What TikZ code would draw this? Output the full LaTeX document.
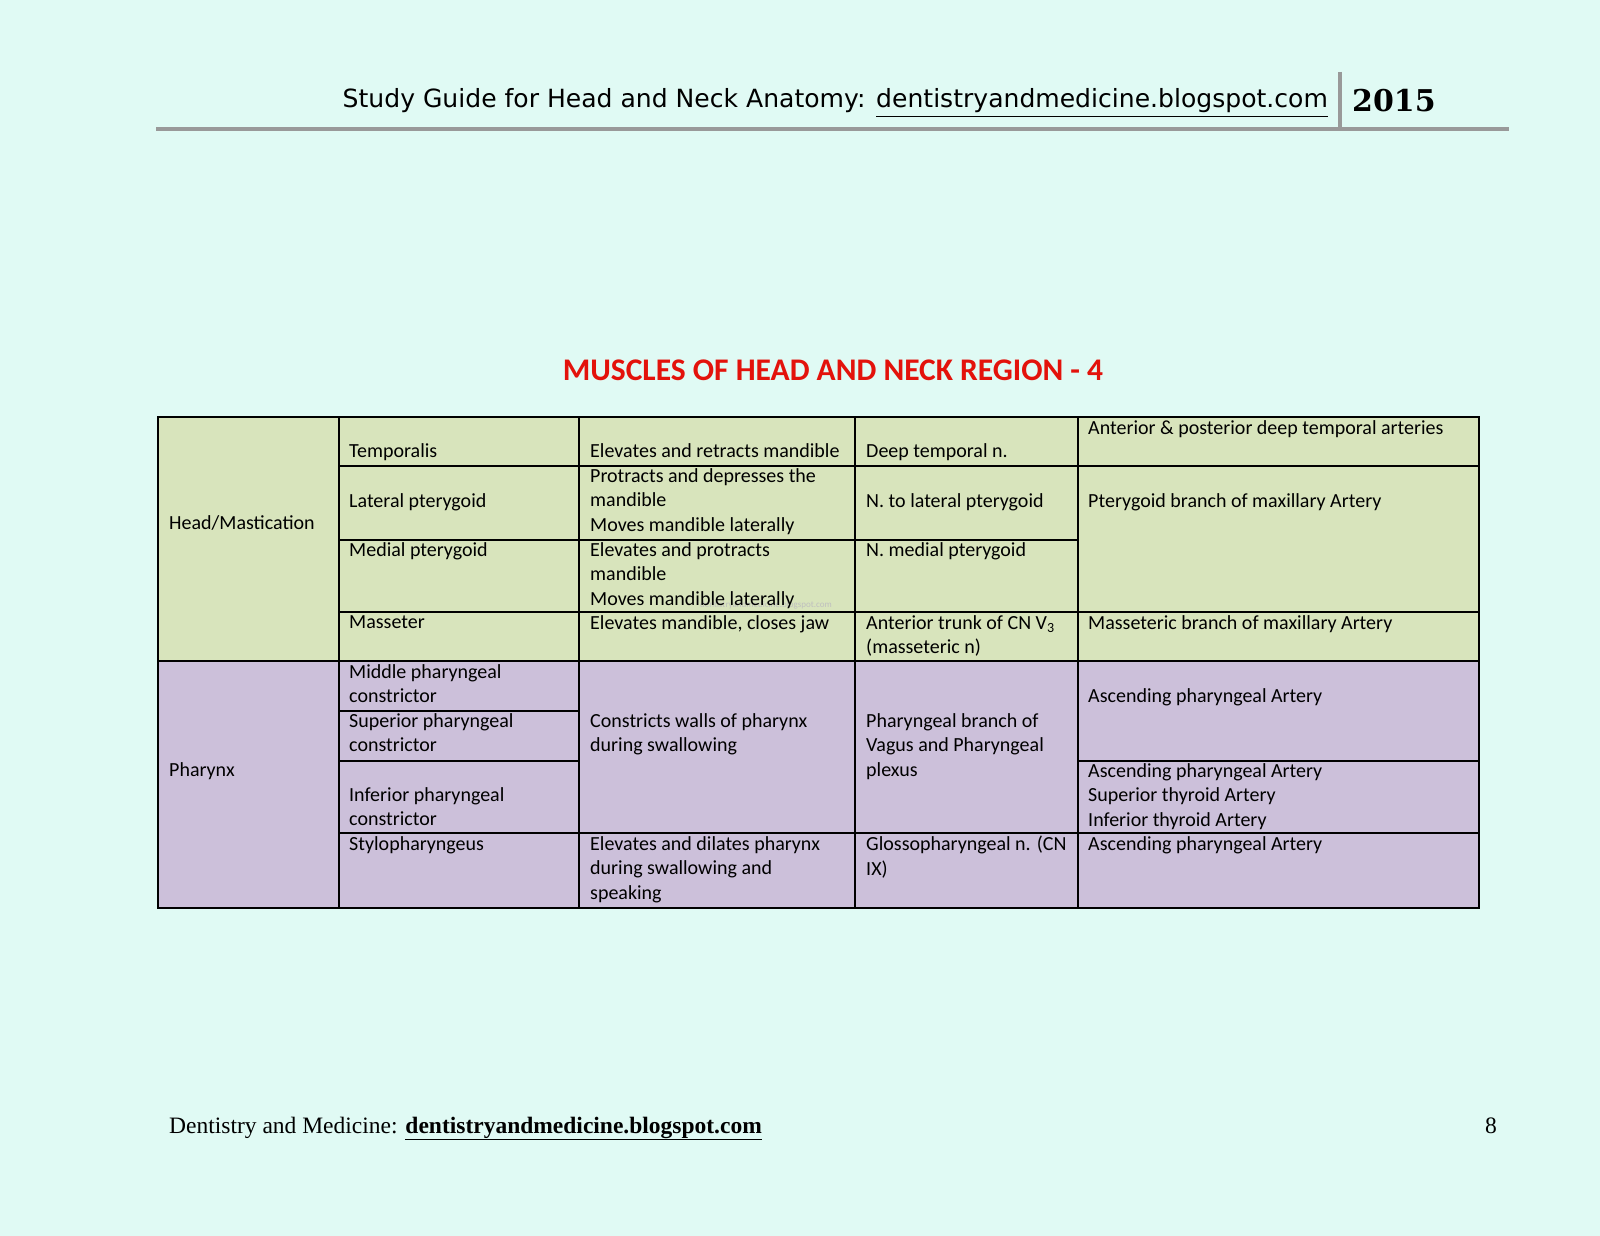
\documentclass[tikz,border=0pt]{standalone}
\usepackage{fontspec}
\setmainfont{Carlito}
\newfontfamily\hdr{DejaVu Sans}
\newfontfamily\ser{Liberation Serif}
\newfontfamily\yr{DejaVu Serif}
\definecolor{bgc}{HTML}{E0FAF4}
\definecolor{grn}{HTML}{D8E4BC}
\definecolor{prp}{HTML}{CCC0DA}
\definecolor{ttl}{HTML}{E3120B}
\begin{document}
\begin{tikzpicture}[x=1pt,y=-1pt,
  cell/.style={anchor=north west,inner sep=0pt,align=left,font=\fontsize{20}{24.5}\selectfont},
  grid/.style={line width=1.3pt,black}]
\fill[bgc] (0,0) rectangle (1600,1236);
% header
\node[anchor=base east,inner sep=0pt] (hd) at (1328,108) {\resizebox{985pt}{!}{\hdr Study Guide for Head and Neck Anatomy: \underline{dentistryandmedicine.blogspot.com}}};
\node[anchor=base west,inner sep=0pt,font=\yr\bfseries\fontsize{30}{30}\selectfont] (yr) at (1352,112) {2015};
\draw[line width=4pt,gray!80] (156,129) -- (1509,129);
\draw[line width=4pt,gray!80] (1340,72) -- (1340,129);
% title
\node[font=\bfseries\fontsize{31.5}{31.5}\selectfont,text=ttl] (title) at (833,370) {MUSCLES OF HEAD AND NECK REGION - 4};
% fills
\fill[grn] (158,417) rectangle (1479,661);
\fill[prp] (158,661) rectangle (1479,908);
\node[text=gray!50,font=\fontsize{9}{9}\selectfont,anchor=west,inner sep=0pt] (wm) at (700,605) {dentistryandmedicine.blogspot.com};
% grid
\draw[grid] (158,417) rectangle (1479,908);
\foreach \x in {339,579,855,1078} \draw[grid] (\x,417) -- (\x,908);
\draw[grid] (339,466) -- (1479,466);
\draw[grid] (339,540) -- (1078,540);
\draw[grid] (339,612) -- (1479,612);
\draw[grid] (158,661) -- (1479,661);
\draw[grid] (339,711) -- (579,711);
\draw[grid] (339,761) -- (579,761);
\draw[grid] (1078,761) -- (1479,761);
\draw[grid] (339,833) -- (1479,833);
% text
\node[cell] (c1) at (169,515) {Head/Mastication};
\node[cell] (c2) at (169,762) {Pharynx};
\node[cell] (t1) at (349,443) {Temporalis};
\node[cell] (t2) at (590,443) {Elevates and retracts mandible};
\node[cell] (t3) at (866,443) {Deep temporal n.};
\node[cell] (t4) at (1088,420) {Anterior \& posterior deep temporal arteries};
\node[cell] (l1) at (349,493) {Lateral pterygoid};
\node[cell] (l2) at (590,468) {Protracts and depresses the\\mandible\\Moves mandible laterally};
\node[cell] (l3) at (866,493) {N. to lateral pterygoid};
\node[cell] (l4) at (1088,493) {Pterygoid branch of maxillary Artery};
\node[cell] (m1) at (349,542) {Medial pterygoid};
\node[cell] (m2) at (590,542) {Elevates and protracts\\mandible\\Moves mandible laterally};
\node[cell] (m3) at (866,542) {N. medial pterygoid};
\node[cell] (s1) at (349,615) {Masseter};
\node[cell] (s2) at (590,615) {Elevates mandible, closes jaw};
\node[cell] (s3) at (866,615) {Anterior trunk of CN V\textsubscript{3}\\(masseteric n)};
\node[cell] (s4) at (1088,615) {Masseteric branch of maxillary Artery};
\node[cell] (p1) at (349,664) {Middle pharyngeal\\constrictor};
\node[cell] (p2) at (349,713) {Superior pharyngeal\\constrictor};
\node[cell] (p3) at (349,787) {Inferior pharyngeal\\constrictor};
\node[cell] (p4) at (590,713) {Constricts walls of pharynx\\during swallowing};
\node[cell] (p5) at (866,713) {Pharyngeal branch of\\Vagus and Pharyngeal\\plexus};
\node[cell] (p6) at (1088,688) {Ascending pharyngeal Artery};
\node[cell] (p7) at (1088,763) {Ascending pharyngeal Artery\\Superior thyroid Artery\\Inferior thyroid Artery};
\node[cell] (y1) at (349,836) {Stylopharyngeus};
\node[cell] (y2) at (590,836) {Elevates and dilates pharynx\\during swallowing and\\speaking};
\node[cell] (y3) at (866,836) {Glossopharyngeal n. (CN\\IX)};
\node[cell] (y4) at (1088,836) {Ascending pharyngeal Artery};
% footer
\node[anchor=base west,inner sep=0pt,font=\ser\fontsize{23.5}{23.5}\selectfont] (ft) at (169,1133) {Dentistry and Medicine: \textbf{\underline{dentistryandmedicine.blogspot.com}}};
\node[anchor=base east,inner sep=0pt,font=\ser\fontsize{23.5}{23.5}\selectfont] (pg) at (1497,1133) {8};
\pgfresetboundingbox
\path[use as bounding box] (0,0) rectangle (1600,1236);
\end{tikzpicture}
\end{document}
